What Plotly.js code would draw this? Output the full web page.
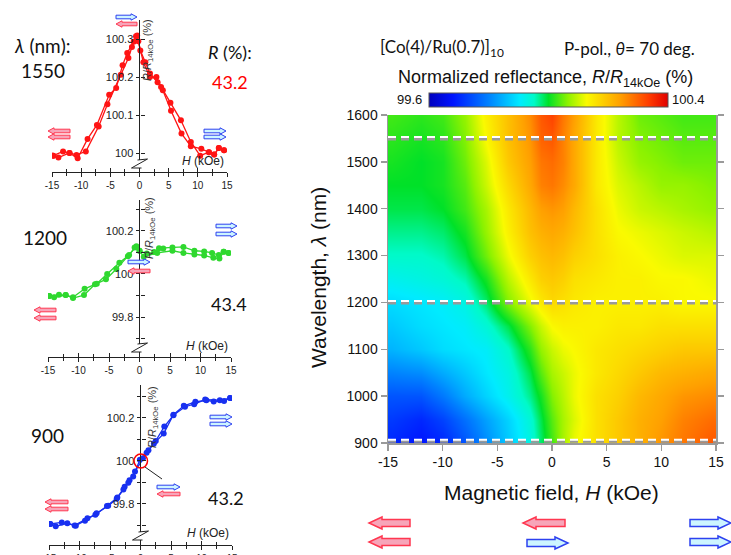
<!DOCTYPE html>
<html><head><meta charset="utf-8">
<script src="https://cdn.plot.ly/plotly-3.0.1.min.js"></script>
<style>html,body{margin:0;padding:0;background:#fff}#c{width:731px;height:555px}</style>
</head><body><div id="c"></div>
<script>
// ---------- data ----------
const H_TICKS = [-15, -10, -5, 0, 5, 10, 15];
const H_LABELS = ['-15', '-10', '-5', '0', '5', '10', '15'];
const LAMBDA_TICKS = [900, 1000, 1100, 1200, 1300, 1400, 1500, 1600];
const LAMBDA_LABELS = ['900', '1000', '1100', '1200', '1300', '1400', '1500', '1600'];
const R1_TICKS = [100, 100.1, 100.2, 100.3];
const R1_LABELS = ['100', '100.1', '100.2', '100.3'];
const R23_TICKS = [99.8, 100, 100.2];
const R23_LABELS = ['99.8', '100', '100.2'];

// 1550 nm loop
const H1_DOWN = [14.5, 13.6, 12.8, 11.9, 10.6, 8.8, 7.2, 5.4, 4.0, 3.1, 1.8, 1.0, 0.14, -0.4, -1.0, -2.1, -2.9, -4.0, -5.2, -7.3, -8.9, -10.6, -12.0, -13.1, -14.8];
const R1_DOWN = [100.007, 100.013, 99.996, 100.002, 100.011, 100.018, 100.051, 100.111, 100.165, 100.186, 100.209, 100.239, 100.270, 100.309, 100.293, 100.263, 100.231, 100.171, 100.153, 100.074, 100.037, 99.986, 100.0, 100.004, 99.993];
const H1_UP = [-14.8, -13.9, -12.0, -10.8, -9.2, -7.0, -5.5, -3.2, -1.9, -1.3, -0.6, -0.2, 0.66, 1.8, 2.9, 3.7, 5.3, 7.1, 8.8, 10.4, 11.9, 12.8, 13.6, 14.5];
const R1_UP = [99.993, 99.988, 100.0, 99.995, 100.004, 100.07, 100.128, 100.206, 100.25, 100.279, 100.307, 100.294, 100.239, 100.2, 100.2, 100.174, 100.132, 100.086, 100.029, 99.993, 100.002, 99.996, 100.013, 100.007];

// 1200 nm loop
const H2_DOWN = [14.6, 13.8, 13.0, 11.9, 10.6, 9.0, 7.2, 5.4, 3.9, 3.2, 2.4, 1.2, 0.0, -0.5, -1.9, -3.8, -5.5, -7.3, -9.1, -10.9, -12.1, -13.2, -14.8];
const R2_DOWN = [100.098, 100.103, 100.088, 100.098, 100.105, 100.108, 100.126, 100.123, 100.118, 100.12, 100.102, 100.095, 100.108, 100.129, 100.083, 100.023, 99.975, 99.952, 99.902, 99.888, 99.902, 99.903, 99.898];
const H2_UP = [-14.8, -14.0, -12.1, -10.9, -9.0, -7.0, -5.3, -3.3, -1.7, -0.8, 0.0, 0.7, 2.9, 5.4, 7.2, 9.0, 10.6, 12.1, 13.1, 13.8, 14.6];
const R2_UP = [99.898, 99.892, 99.902, 99.892, 99.931, 99.955, 100.0, 100.052, 100.088, 100.123, 100.108, 100.08, 100.098, 100.108, 100.098, 100.091, 100.086, 100.075, 100.072, 100.103, 100.098];

// 900 nm loop
const H3_UP = [-14.8, -13.9, -12.0, -10.6, -9.1, -7.2, -5.3, -3.9, -2.8, -2.0, -1.2, -0.1, 1.0, 2.2, 3.8, 5.4, 7.1, 9.0, 10.8, 12.0, 13.7, 14.7];
const R3_UP = [99.707, 99.696, 99.71, 99.699, 99.722, 99.757, 99.791, 99.824, 99.867, 99.898, 99.928, 100.005, 100.038, 100.081, 100.127, 100.215, 100.256, 100.275, 100.282, 100.276, 100.279, 100.292];
const H3_DOWN = [14.7, 13.0, 10.6, 8.8, 7.3, 5.4, 3.9, 2.5, 1.3, 0.4, -0.9, -1.8, -2.6, -3.8, -5.5, -7.4, -8.7, -10.8, -12.9, -14.8];
const R3_DOWN = [100.292, 100.282, 100.285, 100.264, 100.252, 100.212, 100.160, 100.093, 100.05, 100.012, 99.951, 99.91, 99.88, 99.83, 99.79, 99.75, 99.733, 99.70, 99.714, 99.707];

// reflectance map
const MAP_H = [-14.6, -12, -10, -8, -6, -4, -2, -1, 0, 1, 2, 4, 6, 8, 10, 12, 14.6];
const MAP_LAMBDA = [900, 950, 1000, 1050, 1100, 1150, 1200, 1250, 1300, 1350, 1400, 1450, 1500, 1550, 1600];
const MAP_R = [
  [99.70, 99.68, 99.70, 99.75, 99.81, 99.87, 99.93, 99.98, 100.03, 100.08, 100.12, 100.16, 100.19, 100.22, 100.25, 100.28, 100.31],
  [99.72, 99.70, 99.73, 99.78, 99.83, 99.88, 99.94, 99.99, 100.04, 100.08, 100.11, 100.16, 100.19, 100.22, 100.24, 100.27, 100.29],
  [99.75, 99.75, 99.79, 99.84, 99.88, 99.92, 99.97, 100.01, 100.06, 100.09, 100.12, 100.16, 100.18, 100.21, 100.23, 100.25, 100.26],
  [99.80, 99.81, 99.84, 99.87, 99.90, 99.93, 99.99, 100.04, 100.08, 100.10, 100.12, 100.15, 100.17, 100.19, 100.21, 100.22, 100.23],
  [99.85, 99.87, 99.89, 99.90, 99.91, 99.95, 100.02, 100.07, 100.10, 100.12, 100.13, 100.15, 100.16, 100.17, 100.18, 100.19, 100.19],
  [99.87, 99.89, 99.90, 99.91, 99.94, 99.99, 100.06, 100.10, 100.13, 100.14, 100.14, 100.14, 100.15, 100.15, 100.16, 100.16, 100.16],
  [99.89, 99.90, 99.91, 99.93, 99.98, 100.06, 100.12, 100.15, 100.17, 100.16, 100.15, 100.14, 100.14, 100.14, 100.14, 100.13, 100.13],
  [99.92, 99.93, 99.94, 99.96, 100.01, 100.09, 100.15, 100.18, 100.19, 100.18, 100.16, 100.15, 100.14, 100.14, 100.13, 100.13, 100.12],
  [99.95, 99.95, 99.96, 99.99, 100.05, 100.12, 100.18, 100.20, 100.21, 100.20, 100.18, 100.16, 100.14, 100.13, 100.12, 100.11, 100.11],
  [99.97, 99.97, 99.98, 100.01, 100.07, 100.14, 100.20, 100.22, 100.23, 100.22, 100.20, 100.16, 100.13, 100.12, 100.11, 100.10, 100.09],
  [99.99, 99.99, 100.00, 100.03, 100.08, 100.15, 100.21, 100.24, 100.25, 100.24, 100.21, 100.16, 100.12, 100.10, 100.09, 100.08, 100.07],
  [100.00, 100.00, 100.01, 100.04, 100.10, 100.17, 100.23, 100.27, 100.28, 100.26, 100.23, 100.15, 100.11, 100.09, 100.07, 100.07, 100.06],
  [100.01, 100.00, 100.01, 100.05, 100.11, 100.19, 100.24, 100.28, 100.29, 100.27, 100.23, 100.15, 100.10, 100.07, 100.06, 100.05, 100.05],
  [100.02, 100.01, 100.02, 100.06, 100.13, 100.20, 100.25, 100.30, 100.31, 100.27, 100.23, 100.15, 100.09, 100.06, 100.05, 100.04, 100.04],
  [100.03, 100.02, 100.03, 100.07, 100.14, 100.20, 100.26, 100.31, 100.33, 100.28, 100.24, 100.15, 100.09, 100.05, 100.04, 100.03, 100.03]
];

// ---------- helpers ----------
const W = 731, HT = 555;
const px = x => x / W;
const py = y => 1 - y / HT;
const ARIAL = 'Liberation Sans, Arial, sans-serif';
const CAL = 'Lato, Open Sans, sans-serif';

const RED = '#ff1414', GREEN = '#2fd82f', BLUE = '#1830f0';

function loop(hx, ry, color, xa, ya) {
  return {type: 'scatter', mode: 'lines+markers', x: hx, y: ry, xaxis: xa, yaxis: ya,
    line: {color: color, width: 1.3}, marker: {color: color, size: 6}, hoverinfo: 'skip'};
}

const traces = [
  loop(H1_DOWN, R1_DOWN, RED, 'x', 'y'), loop(H1_UP, R1_UP, RED, 'x', 'y'),
  loop(H2_DOWN, R2_DOWN, GREEN, 'x2', 'y2'), loop(H2_UP, R2_UP, GREEN, 'x2', 'y2'),
  loop(H3_DOWN, R3_DOWN, BLUE, 'x3', 'y3'), loop(H3_UP, R3_UP, BLUE, 'x3', 'y3'),
  {type: 'heatmap', x: MAP_H, y: MAP_LAMBDA, z: MAP_R, xaxis: 'x4', yaxis: 'y4',
   zmin: 99.6, zmax: 100.4, zsmooth: 'best', hoverinfo: 'skip',
   colorscale: [[0, 'rgb(0,0,190)'], [0.1, 'rgb(0,20,255)'], [0.25, 'rgb(0,130,255)'], [0.38, 'rgb(0,235,255)'],
     [0.44, 'rgb(0,250,200)'], [0.5, 'rgb(0,225,40)'], [0.58, 'rgb(140,242,0)'], [0.66, 'rgb(250,250,0)'],
     [0.8, 'rgb(255,160,0)'], [0.92, 'rgb(255,60,0)'], [1, 'rgb(225,0,0)']],
   colorbar: {orientation: 'h', x: px(548.5), xanchor: 'center', y: py(93), yanchor: 'top',
     len: 239 / W, lenmode: 'fraction', thickness: 14, thicknessmode: 'pixels',
     outlinewidth: 1, outlinecolor: '#555', showticklabels: false, ticks: '', xpad: 0, ypad: 0}}
];
// empty traces for overlay tick axes
for (let i = 5; i <= 7; i++) traces.push({type: 'scatter', x: [], y: [], xaxis: 'x' + i, yaxis: 'y' + i, hoverinfo: 'skip'});

const panels = [
  {xl: 52, xr: 227, yt: 20, yb: 172, x0: 139.5, range: [99.95, 100.35], tv: R1_TICKS, tt: R1_LABELS, minor: 0, brk: 164},
  {xl: 48, xr: 231, yt: 200, yb: 357, x0: 139.5, range: [99.614, 100.344], tv: R23_TICKS, tt: R23_LABELS, minor: 0.1, brk: 348},
  {xl: 49, xr: 232, yt: 385, yb: 545, x0: 140.5, range: [99.609, 100.353], tv: R23_TICKS, tt: R23_LABELS, minor: 0.1, brk: 536}
];

const layout = {
  width: W, height: HT, margin: {l: 0, r: 0, t: 0, b: 0}, showlegend: false,
  paper_bgcolor: '#fff', plot_bgcolor: 'rgba(0,0,0,0)',
  font: {family: ARIAL, color: '#111'},
  shapes: [], annotations: []
};

panels.forEach((p, i) => {
  const n = i + 1, o = i + 5;
  const sx = n === 1 ? '' : n;
  const xdom = [px(p.xl), px(p.xr)], ydom = [py(p.yb), py(p.yt)];
  const yminor = t => p.minor ? {tickmode: 'linear', tick0: 99.6, dtick: p.minor, ticks: t, ticklen: 4, tickcolor: '#222'} : {ticks: ''};
  layout['xaxis' + sx] = {domain: xdom, range: [-15, 15], anchor: 'y' + sx, showgrid: false, zeroline: false,
    showline: true, linecolor: '#222', linewidth: 1, tickmode: 'array', tickvals: H_TICKS, ticktext: H_LABELS,
    ticks: 'outside', ticklen: 4, tickcolor: '#222', tickfont: {size: 10, color: '#222'},
    minor: {tickmode: 'linear', tick0: -15, dtick: 2.5, ticks: 'outside', ticklen: 3, tickcolor: '#222'}};
  layout['yaxis' + sx] = {domain: ydom, range: p.range, anchor: 'free', position: px(p.x0), showgrid: false, zeroline: false,
    showline: false, tickmode: 'array', tickvals: p.tv, ticktext: p.tt, ticks: 'outside', ticklen: 4, tickcolor: '#222',
    tickfont: {size: 11, color: '#222'}, minor: yminor('outside')};
  layout['xaxis' + o] = {overlaying: 'x' + sx, anchor: 'y' + sx, range: [-15, 15], showgrid: false, zeroline: false,
    showline: false, tickmode: 'array', tickvals: H_TICKS, showticklabels: false, ticks: 'inside', ticklen: 4, tickcolor: '#222',
    minor: {tickmode: 'linear', tick0: -15, dtick: 2.5, ticks: 'inside', ticklen: 3, tickcolor: '#222'}};
  layout['yaxis' + o] = {overlaying: 'y' + sx, anchor: 'free', position: px(p.x0), range: p.range, showgrid: false, zeroline: false,
    showline: false, tickmode: 'array', tickvals: p.tv, showticklabels: false, ticks: 'inside', ticklen: 4, tickcolor: '#222',
    minor: yminor('inside')};
  // axis line with break
  layout.shapes.push({type: 'line', xref: 'paper', yref: 'paper', x0: px(p.x0), x1: px(p.x0), y0: py(p.yt), y1: py(p.brk - 4), line: {color: '#222', width: 1}});
  layout.shapes.push({type: 'line', xref: 'paper', yref: 'paper', x0: px(p.x0), x1: px(p.x0), y0: py(p.brk + 4), y1: py(p.yb), line: {color: '#222', width: 1}});
  const x = p.x0, b = p.brk;
  layout.shapes.push({type: 'path', xref: 'paper', yref: 'paper',
    path: `M${px(x - 2)},${py(b - 4)}L${px(x + 8)},${py(b - 5)}L${px(x - 8)},${py(b + 4)}L${px(x + 2)},${py(b + 4)}`,
    line: {color: '#222', width: 1}});
});

layout.xaxis4 = {domain: [px(388), px(716)], range: [-15, 15], anchor: 'y4', showgrid: false, zeroline: false,
  showline: true, linecolor: '#9a9a9a', linewidth: 1.5, tickmode: 'array', tickvals: H_TICKS, ticktext: H_LABELS,
  ticks: 'outside', ticklen: 6, tickcolor: '#9a9a9a', tickwidth: 1.5, tickfont: {size: 14, color: '#111'}};
layout.yaxis4 = {domain: [py(443), py(115)], range: [900, 1600], anchor: 'x4', showgrid: false, zeroline: false,
  showline: true, linecolor: '#9a9a9a', linewidth: 1.5, mirror: 'ticks', tickmode: 'array', tickvals: LAMBDA_TICKS,
  ticktext: LAMBDA_LABELS, ticks: 'outside', ticklen: 6, tickcolor: '#9a9a9a', tickwidth: 1.5, tickfont: {size: 14, color: '#111'}};

// dashed marker lines at the wavelengths of the loops
[[1550, 3, -2], [1200, 3, -2], [903, 4, 0]].forEach(([lam, up, dn]) => {
  layout.shapes.push({type: 'line', xref: 'x4', yref: 'y4', x0: -15, x1: 15, y0: lam + dn, y1: lam + dn,
    line: {color: '#999', width: 2.5, dash: '8px,5px'}});
  layout.shapes.push({type: 'line', xref: 'x4', yref: 'y4', x0: -15, x1: 15, y0: lam + up, y1: lam + up,
    line: {color: '#fff', width: 2, dash: '8px,5px'}});
});

// arrows
const PINK = 'rgb(247,165,185)', REDL = 'rgb(255,55,80)', CYAN = 'rgb(205,245,255)', BLUEL = 'rgb(45,65,240)';
function arrow(x0, x1, cy, dir, big) {
  const bh = big ? 3.5 : 1.8, hh = big ? 6 : 3.2, hl = big ? 13 : 6;
  let pts;
  if (dir > 0) pts = [[x0, cy - bh], [x1 - hl, cy - bh], [x1 - hl, cy - hh], [x1, cy], [x1 - hl, cy + hh], [x1 - hl, cy + bh], [x0, cy + bh]];
  else pts = [[x1, cy - bh], [x0 + hl, cy - bh], [x0 + hl, cy - hh], [x0, cy], [x0 + hl, cy + hh], [x0 + hl, cy + bh], [x1, cy + bh]];
  layout.shapes.push({type: 'path', xref: 'paper', yref: 'paper',
    path: 'M' + pts.map(q => px(q[0]) + ',' + py(q[1])).join('L') + 'Z',
    fillcolor: dir > 0 ? CYAN : PINK, line: {color: dir > 0 ? BLUEL : REDL, width: big ? 1.5 : 1}});
}
// big
arrow(369, 410, 523, -1, true); arrow(369, 410, 542, -1, true);
arrow(523, 565, 523, -1, true); arrow(527, 568, 543, 1, true);
arrow(690, 731, 523, 1, true); arrow(690, 731, 542, 1, true);
// panel 1
arrow(116, 137, 17, 1); arrow(116, 137, 24, -1);
arrow(48, 70, 131, -1); arrow(48, 70, 137, -1);
arrow(204, 226, 131, 1); arrow(204, 226, 137, 1);
// panel 2
arrow(216, 237, 226, 1); arrow(216, 237, 234, 1);
arrow(128, 150, 262, 1); arrow(128, 150, 271, -1);
arrow(34, 56, 310, -1); arrow(34, 56, 318, -1);
// panel 3
arrow(210, 232, 417, 1); arrow(210, 232, 424, 1);
arrow(157, 180, 487, 1); arrow(157, 180, 494, -1);
arrow(45, 68, 502, -1); arrow(45, 68, 509, -1);

// red circle + pointer in panel 3
layout.shapes.push({type: 'circle', xref: 'paper', yref: 'paper', x0: px(134), x1: px(147.5), y0: py(454), y1: py(468),
  line: {color: '#ff0000', width: 1.5}});
layout.shapes.push({type: 'line', xref: 'paper', yref: 'paper', x0: px(145), y0: py(467), x1: px(162), y1: py(479),
  line: {color: '#222', width: 1}});

// text
function ann(text, x, y, opt) {
  layout.annotations.push(Object.assign({text: text, x: px(x), y: py(y), xref: 'paper', yref: 'paper', showarrow: false,
    xanchor: 'center', yanchor: 'middle', font: {family: CAL, size: 19, color: '#111'}}, opt || {}));
}
ann('<i>λ</i> (nm):', 42, 45);
ann('1550', 43, 70);
ann('<i>R</i> (%):', 230, 52, {font: {family: CAL, size: 18, color: '#111'}});
ann('43.2', 230, 82, {font: {family: CAL, size: 18, color: '#ff0000'}});
ann('1200', 45, 237);
ann('43.4', 229, 304, {font: {family: CAL, size: 18, color: '#111'}});
ann('900', 47, 435);
ann('43.2', 226, 498, {font: {family: CAL, size: 18, color: '#111'}});

const RT = '<i>R</i>/<i>R</i><sub>14kOe</sub> (%)';
ann(RT, 148, 50, {textangle: -90, font: {family: ARIAL, size: 11, color: '#333'}});
ann(RT, 150, 228, {textangle: -90, font: {family: ARIAL, size: 11, color: '#333'}});
ann(RT, 153, 417, {textangle: -90, font: {family: ARIAL, size: 11, color: '#333'}});
ann('<i>H</i> (kOe)', 226, 161, {xanchor: 'right', font: {family: ARIAL, size: 12, color: '#222'}});
ann('<i>H</i> (kOe)', 230, 346, {xanchor: 'right', font: {family: ARIAL, size: 12, color: '#222'}});
ann('<i>H</i> (kOe)', 231, 533, {xanchor: 'right', font: {family: ARIAL, size: 12, color: '#222'}});

ann('[Co(4)/Ru(0.7)]<sub>10</sub>', 442, 48, {font: {family: CAL, size: 17, color: '#111'}});
ann('P-pol., <i>θ</i>= 70 deg.', 629, 48, {font: {family: CAL, size: 17, color: '#111'}});
ann('Normalized reflectance, <i>R</i>/<i>R</i><sub>14kOe</sub> (%)', 545, 78, {font: {family: ARIAL, size: 18, color: '#111'}});
ann('99.6', 424, 100, {xanchor: 'right', font: {family: ARIAL, size: 13, color: '#111'}});
ann('100.4', 670, 100, {xanchor: 'left', font: {family: ARIAL, size: 13, color: '#111'}});
ann('Wavelength, <i>λ</i> (nm)', 318, 278, {textangle: -90, font: {family: ARIAL, size: 21, color: '#111'}});
ann('Magnetic field, <i>H</i> (kOe)', 551, 492, {font: {family: ARIAL, size: 21, color: '#111'}});

Plotly.newPlot('c', traces, layout, {staticPlot: true, displayModeBar: false});
</script></body></html>
